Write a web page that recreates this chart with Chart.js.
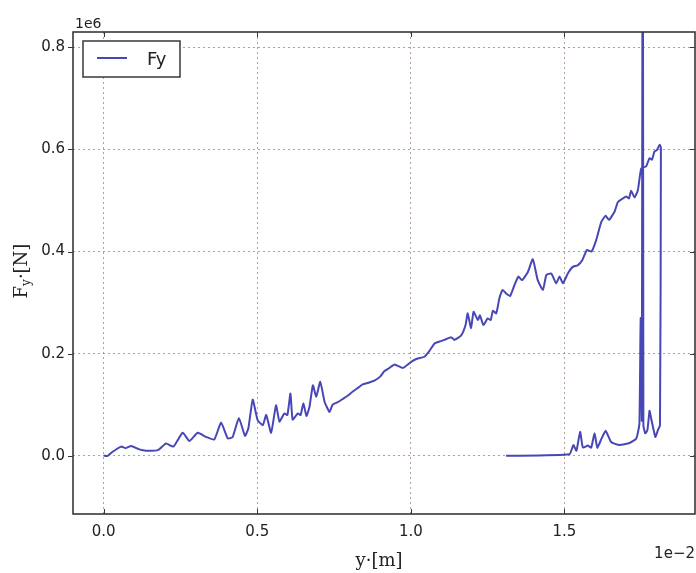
<!DOCTYPE html>
<html>
<head>
<meta charset="utf-8">
<script src="https://cdn.jsdelivr.net/npm/chart.js@4/dist/chart.umd.min.js"></script>
<style>
  html, body { margin: 0; padding: 0; background: #ffffff; }
  #wrap { position: relative; width: 696px; height: 573px; }
</style>
</head>
<body>
<div id="wrap"><canvas id="c" width="696" height="573"></canvas></div>
<script>
// ---- data (x in units of 1e-2 m, y in units of 1e6 N) ----
const seriesName = "Fy";
const fyX = [
  0, 0.013, 0.029, 0.057, 0.071, 0.089, 0.116, 0.138, 0.176, 0.203, 0.227, 0.257, 0.279, 0.306, 0.333,
  0.36, 0.382, 0.404, 0.42, 0.44, 0.46, 0.471, 0.485, 0.501, 0.518, 0.529, 0.545, 0.561, 0.572, 0.588,
  0.598, 0.608, 0.615, 0.632, 0.641, 0.65, 0.66, 0.67, 0.681, 0.692, 0.705, 0.719, 0.735, 0.745, 0.762,
  0.78, 0.795, 0.811, 0.83, 0.843, 0.862, 0.881, 0.9, 0.914, 0.93, 0.947, 0.974, 1.001, 1.02, 1.044,
  1.06, 1.077, 1.095, 1.109, 1.131, 1.142, 1.164, 1.178,
  1.185, 1.196, 1.204, 1.218, 1.225, 1.236, 1.25, 1.26, 1.267, 1.278, 1.288, 1.299, 1.31, 1.323, 1.337,
  1.35, 1.362, 1.381, 1.397, 1.413, 1.43, 1.441, 1.457, 1.473, 1.484, 1.495, 1.511, 1.527, 1.543, 1.558,
  1.573, 1.588, 1.603, 1.62, 1.634, 1.645, 1.663, 1.674, 1.69, 1.701, 1.71, 1.717, 1.728, 1.739, 1.75,
  1.766, 1.777, 1.785, 1.793, 1.8, 1.81, 1.814,
  1.811, 1.804, 1.796, 1.782, 1.777, 1.77, 1.763, 1.757, 1.755, 1.752, 1.748, 1.744, 1.734, 1.712, 1.679,
  1.652, 1.634, 1.621, 1.607, 1.598, 1.587, 1.576, 1.56, 1.551, 1.539, 1.529, 1.516, 1.31
];
const fyY = [
  0, 0.0, 0.008, 0.018, 0.015, 0.019, 0.0125, 0.01, 0.011, 0.024, 0.018, 0.045, 0.029, 0.045, 0.037,
  0.032, 0.065, 0.034, 0.037, 0.074, 0.039, 0.054, 0.11, 0.07, 0.06, 0.08, 0.045, 0.099, 0.067, 0.083,
  0.08, 0.122, 0.071, 0.083, 0.08, 0.103, 0.078, 0.096, 0.138, 0.116, 0.145, 0.106, 0.086, 0.1, 0.105,
  0.112, 0.118, 0.126, 0.134, 0.14, 0.143, 0.147, 0.155, 0.166, 0.172, 0.179, 0.172, 0.184, 0.19, 0.194,
  0.205, 0.22, 0.224, 0.227, 0.232, 0.227, 0.236, 0.256,
  0.279, 0.25, 0.282, 0.266, 0.275, 0.256, 0.269, 0.266, 0.284, 0.279, 0.308, 0.325, 0.318, 0.313, 0.334,
  0.351, 0.344, 0.36, 0.385, 0.344, 0.325, 0.354, 0.357, 0.338, 0.351, 0.338, 0.357, 0.37, 0.373, 0.383,
  0.403, 0.4, 0.422, 0.458, 0.47, 0.462, 0.478, 0.497, 0.504, 0.508, 0.504, 0.519, 0.506, 0.52, 0.563,
  0.567, 0.583, 0.58, 0.596, 0.598, 0.609, 0.603,
  0.06, 0.05, 0.037, 0.074, 0.088, 0.05, 0.044, 0.06, 1.5, 0.07, 0.27, 0.063, 0.034, 0.025, 0.021,
  0.027, 0.049, 0.034, 0.016, 0.044, 0.016, 0.02, 0.016, 0.047, 0.01, 0.021, 0.003, 0.0
];
const xTicks = [0.0, 0.5, 1.0, 1.5];
const yTicks = [0.0, 0.2, 0.4, 0.6, 0.8];
const xRange = [-0.1, 1.925];
const yRange = [-0.114, 0.83];
const xOffsetLabel = "1e\u22122";
const yOffsetLabel = "1e6";
const xTitle = "y\u00b7[m]";

// ---- styling ----
const LINE = "#4747b5";
const TEXT = "#222222";
const FRAME = "#383838";
const GRID = "rgba(150,120,110,0.7)";
const SANS = "'DejaVu Sans', sans-serif";
const SERIF = "'DejaVu Serif', serif";

const points = fyX.map((x, i) => ({ x: x, y: fyY[i] }));

const decor = {
  id: "decor",
  afterDraw(chart) {
    const ctx = chart.ctx;
    const a = chart.chartArea;
    const xs = chart.scales.x, ys = chart.scales.y;
    ctx.save();
    // frame
    ctx.strokeStyle = FRAME;
    ctx.lineWidth = 1.6;
    ctx.strokeRect(a.left, a.top, a.right - a.left, a.bottom - a.top);
    // ticks
    ctx.lineWidth = 1;
    ctx.beginPath();
    xTicks.forEach(v => {
      const px = Math.round(xs.getPixelForValue(v)) + 0.5;
      ctx.moveTo(px, a.top); ctx.lineTo(px, a.top + 5);
      ctx.moveTo(px, a.bottom); ctx.lineTo(px, a.bottom - 5);
    });
    yTicks.forEach(v => {
      const py = Math.round(ys.getPixelForValue(v)) + 0.5;
      ctx.moveTo(a.left - 5, py); ctx.lineTo(a.left, py);
      ctx.moveTo(a.right, py); ctx.lineTo(a.right - 5, py);
    });
    ctx.stroke();

    // legend
    ctx.fillStyle = "#ffffff";
    ctx.fillRect(83, 41, 97, 36);
    ctx.strokeStyle = FRAME;
    ctx.lineWidth = 1.5;
    ctx.strokeRect(83, 41, 97, 36);
    ctx.strokeStyle = LINE;
    ctx.lineWidth = 2;
    ctx.beginPath(); ctx.moveTo(97, 58); ctx.lineTo(127, 58); ctx.stroke();
    ctx.fillStyle = TEXT;
    ctx.font = "18px " + SANS;
    ctx.textAlign = "left";
    ctx.textBaseline = "alphabetic";
    ctx.fillText(seriesName, 147, 65);

    // offset labels
    ctx.font = "14px " + SANS;
    ctx.fillText(yOffsetLabel, 75, 28);
    ctx.font = "15px " + SANS;
    ctx.textAlign = "right";
    ctx.fillText(xOffsetLabel, 695, 558);

    // x title
    ctx.font = "18px " + SERIF;
    ctx.textAlign = "center";
    ctx.fillText(xTitle, 379, 566);

    // y title: F_y·[N]
    ctx.save();
    ctx.translate(27, 271);
    ctx.rotate(-Math.PI / 2);
    ctx.textAlign = "left";
    const big = "18px " + SERIF, small = "12px " + SERIF;
    ctx.font = big; const wF = ctx.measureText("F").width; const wR = ctx.measureText("\u00b7[N]").width;
    ctx.font = small; const wy = ctx.measureText("y").width;
    let x0 = -(wF + wy + wR) / 2;
    ctx.font = big; ctx.fillText("F", x0, 0); x0 += wF;
    ctx.font = small; ctx.fillText("y", x0, 3); x0 += wy;
    ctx.font = big; ctx.fillText("\u00b7[N]", x0, 0);
    ctx.restore();

    ctx.restore();
  }
};

new Chart(document.getElementById("c"), {
  type: "scatter",
  data: {
    datasets: [{
      label: seriesName,
      data: points,
      showLine: true,
      borderColor: LINE,
      borderWidth: 2,
      pointRadius: 0,
      pointHoverRadius: 0,
      tension: 0.15,
      borderJoinStyle: "round",
      fill: false
    }]
  },
  options: {
    responsive: false,
    animation: false,
    events: [],
    layout: { padding: { left: 0, top: 32, right: 1, bottom: 0 } },
    plugins: { legend: { display: false }, tooltip: { enabled: false } },
    scales: {
      x: {
        type: "linear",
        min: xRange[0], max: xRange[1],
        afterBuildTicks: s => { s.ticks = xTicks.map(v => ({ value: v })); },
        afterFit: s => { s.height = 573 - 514; },
        grid: { color: GRID, lineWidth: 1, drawTicks: false },
        border: { display: false, dash: [2, 3] },
        ticks: {
          padding: 9,
          color: TEXT,
          font: { family: SANS, size: 15 },
          maxRotation: 0,
          callback: v => Number(v).toFixed(1)
        }
      },
      y: {
        type: "linear",
        min: yRange[0], max: yRange[1],
        afterBuildTicks: s => { s.ticks = yTicks.map(v => ({ value: v })); },
        afterFit: s => { s.width = 73; },
        grid: { color: GRID, lineWidth: 1, drawTicks: false },
        border: { display: false, dash: [2, 3] },
        ticks: {
          padding: 8,
          color: TEXT,
          font: { family: SANS, size: 15 },
          callback: v => Number(v).toFixed(1)
        }
      }
    }
  },
  plugins: [decor]
});
</script>
</body>
</html>
